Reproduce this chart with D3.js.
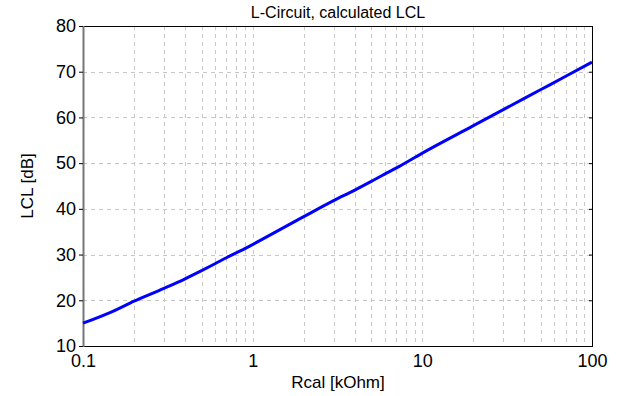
<!DOCTYPE html>
<html><head><meta charset="utf-8">
<script src="https://cdn.jsdelivr.net/npm/d3@7"></script>
<style>
html,body{margin:0;padding:0;background:#fff;}
svg{display:block;font-family:"Liberation Sans",Arial,sans-serif;}
</style></head>
<body>
<svg id="chart" width="624" height="396"></svg>
<script>
const title = "L-Circuit, calculated LCL";
const xLabel = "Rcal [kOhm]";
const yLabel = "LCL [dB]";
const rcal = [0.1, 0.15, 0.2, 0.3, 0.4, 0.5, 0.6, 0.7, 0.9, 1, 2, 3, 4, 5, 6, 7, 10, 20, 30, 50, 70, 100];
const lcl  = [15.0, 17.6, 19.8, 22.6, 24.7, 26.5, 28.0, 29.3, 31.3, 32.2, 38.3, 41.8, 44.1, 46.0, 47.6, 48.9, 52.2, 58.2, 61.7, 66.1, 69.0, 72.1];
const xTicks = [0.1, 1, 10, 100];
const xTickLabels = ["0.1", "1", "10", "100"];
const yTicks = [10, 20, 30, 40, 50, 60, 70, 80];

const svg = d3.select("#chart");
const m = {left: 83, right: 592, top: 26, bottom: 346};
const x = d3.scaleLog().domain([0.1, 100]).range([m.left, m.right]);
const y = d3.scaleLinear().domain([10, 80]).range([m.bottom, m.top]);

const xGrid = [];
[0.1, 1, 10].forEach(d => { for (let k = 1; k <= 9; k++) xGrid.push(d * k); });
xGrid.push(100);

const grid = svg.append("g").attr("stroke", "#c8c8c8").attr("stroke-width", 1).attr("stroke-dasharray", "4,4").attr("shape-rendering", "crispEdges");
grid.selectAll("line.v").data(xGrid.filter(d => d > 0.1 && d < 100)).join("line")
  .attr("x1", d => Math.round(x(d)) + 0.5).attr("x2", d => Math.round(x(d)) + 0.5)
  .attr("y1", m.top).attr("y2", m.bottom);
grid.selectAll("line.h").data(yTicks.filter(d => d > 10 && d < 80)).join("line")
  .attr("x1", m.left).attr("x2", m.right)
  .attr("y1", d => Math.round(y(d)) + 0.5).attr("y2", d => Math.round(y(d)) + 0.5);

svg.append("rect").attr("x", m.left + 0.5).attr("y", m.top + 0.5)
  .attr("width", m.right - m.left).attr("height", m.bottom - m.top)
  .attr("fill", "none").attr("stroke", "#000").attr("stroke-width", 1).attr("shape-rendering", "crispEdges");
svg.append("line").attr("x1", m.left + 0.5).attr("x2", m.left + 0.5).attr("y1", m.top).attr("y2", m.bottom + 1)
  .attr("stroke", "#777").attr("stroke-width", 2);

const xAxis = d3.axisBottom(x).tickValues(xTicks).tickFormat((d, i) => xTickLabels[i]).tickSize(0).tickPadding(8);
const gx = svg.append("g").attr("transform", `translate(0,${m.bottom})`).call(xAxis);
gx.select(".domain").remove();
gx.selectAll("text").attr("font-size", 18).attr("fill", "#000").attr("font-family", "Liberation Sans, Arial, sans-serif");

const yAxis = d3.axisLeft(y).tickValues(yTicks).tickSize(4).tickPadding(3);
const gy = svg.append("g").attr("transform", `translate(${m.left},0)`).call(yAxis);
gy.select(".domain").remove();
gy.selectAll("text").attr("font-size", 18).attr("fill", "#000").attr("font-family", "Liberation Sans, Arial, sans-serif");
const yAxisR = d3.axisLeft(y).tickValues(yTicks).tickSize(4).tickFormat("");
const gyr = svg.append("g").attr("transform", `translate(${m.right + 1},0)`).call(yAxisR);
gyr.select(".domain").remove();

const pts = rcal.map((d, i) => [d, lcl[i]]);
svg.append("path").datum(pts)
  .attr("fill", "none").attr("stroke", "#0000ff").attr("stroke-width", 3)
  .attr("d", d3.line().x(d => x(d[0])).y(d => y(d[1])).curve(d3.curveMonotoneX));

svg.append("text").attr("x", 338).attr("y", 18).attr("text-anchor", "middle").attr("font-size", 16).text(title);
svg.append("text").attr("x", 338).attr("y", 388).attr("text-anchor", "middle").attr("font-size", 17).text(xLabel);
svg.append("text").attr("transform", "translate(33,186) rotate(-90)").attr("text-anchor", "middle").attr("font-size", 17).text(yLabel);
</script>
</body></html>
